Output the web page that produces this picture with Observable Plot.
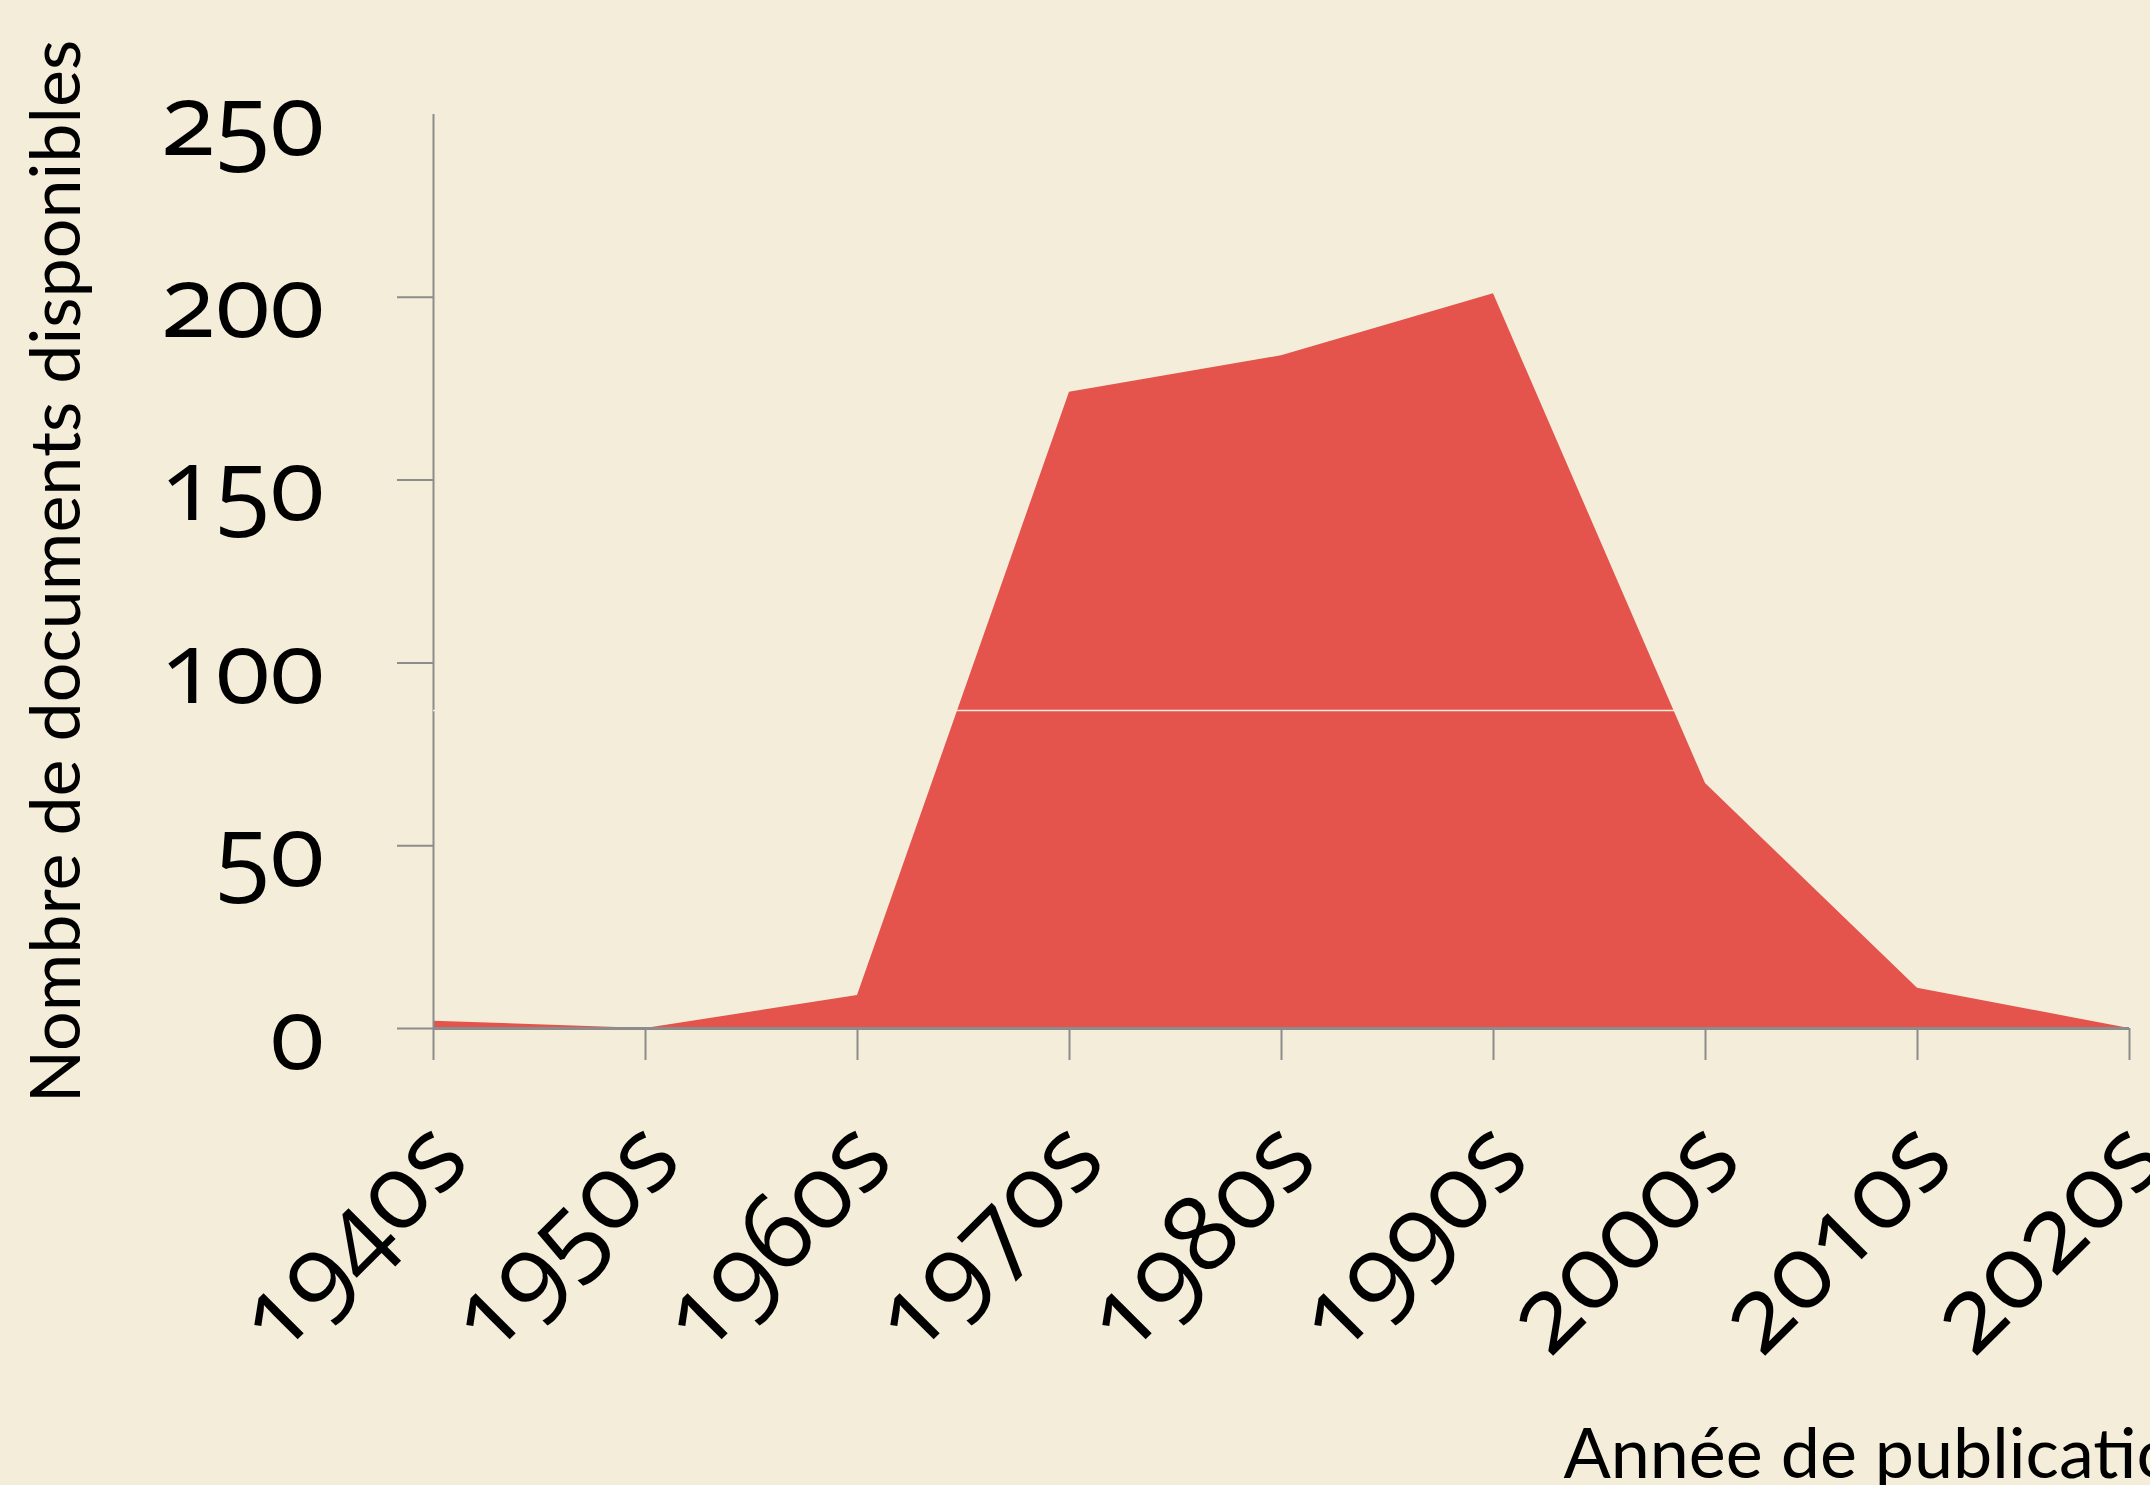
<!DOCTYPE html>
<html>
<head>
<meta charset="utf-8">
<script src="https://cdn.jsdelivr.net/npm/d3@7"></script>
<script src="https://cdn.jsdelivr.net/npm/@observablehq/plot@0.6"></script>
<style>
  html, body { margin: 0; padding: 0; background: #F3EDD9; overflow: hidden; width: 2150px; height: 1485px; }
  #chart svg { display: block; }
</style>
</head>
<body>
<div id="chart"></div>
<script>
const decades = [1940, 1950, 1960, 1970, 1980, 1990, 2000, 2010, 2020];
const counts = [2, 0, 9, 174, 184, 201, 67, 11, 0];
const yTicks = [0, 50, 100, 150, 200, 250];
const yTickMarks = [0, 50, 100, 150, 200];
const seamLevel = [87];
const yTitle = "Nombre de documents disponibles";
const xTitle = "Année de publication";

const data = decades.map((d, i) => ({decade: d, count: counts[i]}));

const bg = "#F3EDD9";
const axisColor = "#8C8C8C";
const fill = "#E4534C";
const tickFont = "'Open Sans', sans-serif";
const titleFont = "Lato, 'Open Sans', sans-serif";

const chart = Plot.plot({
  width: 2150,
  height: 1485,
  marginLeft: 433,
  marginRight: 21,
  marginTop: 114,
  marginBottom: 457,
  style: {background: bg, color: "black", overflow: "visible"},
  x: {domain: [1940, 2020]},
  y: {domain: [0, 250]},
  marks: [
    Plot.areaY(data, {x: "decade", y: "count", fill: fill}),
    Plot.ruleX([1940], {y1: 0, y2: 250, stroke: axisColor, strokeWidth: 2}),
    Plot.ruleY([0], {x1: 1940, x2: 2020, stroke: axisColor, strokeWidth: 3}),
    Plot.ruleY(seamLevel, {stroke: bg, strokeWidth: 1.5}),
    Plot.axisY({ticks: yTickMarks, tickSize: 36, tickFormat: () => "", stroke: axisColor, strokeWidth: 2, label: null}),
    Plot.axisY({ticks: yTicks, tickSize: 0, tickPadding: 109, tickFormat: d => String(d),
      fontSize: 100, fontFamily: tickFont, fontVariant: "oldstyle-nums", fill: "black", dy: 8, label: null}),
    Plot.axisX({ticks: decades, tickSize: 32, tickFormat: () => "", stroke: axisColor, strokeWidth: 2, label: null}),
    Plot.axisX({ticks: decades, tickSize: 0, tickPadding: 32, tickRotate: -45, tickFormat: d => d + "s",
      fontSize: 104, fontFamily: tickFont, fontVariant: "oldstyle-nums", dx: 16, dy: 80,
      fill: "black", label: null}),
    Plot.text([yTitle], {text: d => d, frameAnchor: "left", textAnchor: "middle", rotate: -90, dx: -376,
      fontSize: 70, fontFamily: titleFont, fill: "black"}),
    Plot.text([xTitle], {text: d => d, frameAnchor: "bottom-left", dx: 1130, dy: 449,
      textAnchor: "start", fontSize: 70, fontFamily: titleFont, fill: "black"})
  ]
});
document.getElementById("chart").appendChild(chart);
</script>
</body>
</html>
